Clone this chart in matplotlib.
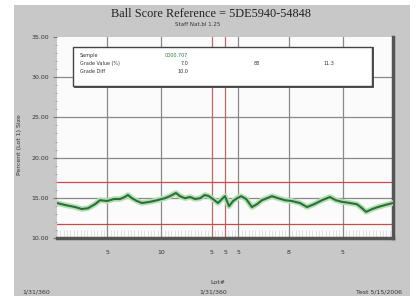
import numpy as np
import matplotlib.pyplot as plt
from matplotlib.patches import Rectangle

# data
lot_pos = [0, 2.4, 5.4, 7.4, 9.2, 11.3, 12.8, 14.9, 17.0, 18.8, 20.2, 21.1, 22.3, 23.8,
           25.3, 27.7, 29.8, 32.1, 33.6, 35.4, 36.6, 38.1, 39.6, 41.1, 42.6, 44.0, 45.2,
           46.4, 47.9, 49.1, 50.0, 51.2, 52.4, 53.6, 54.8, 56.3, 58.0, 59.5, 61.0, 62.5,
           64.0, 65.8, 67.9, 69.9, 72.3, 74.4, 76.5, 78.9, 81.2, 83.0, 84.8, 87.2, 89.3,
           90.8, 92.0, 93.8, 95.5, 97.6, 100]
pct_values = [14.35, 14.1, 13.85, 13.6, 13.7, 14.2, 14.7, 14.6, 14.85, 14.85, 15.1, 15.35,
              14.95, 14.6, 14.35, 14.5, 14.7, 14.95, 15.2, 15.6, 15.2, 14.95, 15.1, 14.85,
              14.95, 15.35, 15.2, 14.85, 14.35, 14.85, 15.2, 13.95, 14.6, 14.95, 15.2, 14.85,
              13.85, 14.2, 14.7, 14.95, 15.2, 14.95, 14.7, 14.6, 14.35, 13.85, 14.2, 14.7,
              15.1, 14.7, 14.5, 14.35, 14.2, 13.7, 13.25, 13.6, 13.85, 14.1, 14.35]

xtick_pos = [15, 31, 46, 50, 54, 69, 85, 100]
xtick_labels = ["5", "10", "5", "5", "5", "8", "5", ""]
red_vlines = [46, 50]
ytick_pos = [10, 15, 20, 25, 30, 35]
limit_lines = [17, 11.75]

fig = plt.figure(figsize=(4.16, 2.96), dpi=100, facecolor='white')
fig.patches.append(Rectangle((14/416, 0), 396/416, 1 - 5/296, transform=fig.transFigure,
                             facecolor='#c8c8c8', edgecolor='none', zorder=-10))

ax = fig.add_axes([57/416, 1 - 238/296, 336/416, 201/296])
ax.set_facecolor('#fbfbfb')
ax.set_xlim(0, 100)
ax.set_ylim(10, 35)

# grid
for y in [15, 20, 25, 30]:
    ax.axhline(y, color='#8a8a8a', lw=0.9, zorder=1)
for x in xtick_pos[:-1]:
    if x in red_vlines:
        ax.axvline(x, color='#c06868', lw=0.9, zorder=1)
    else:
        ax.axvline(x, color='#8a8a8a', lw=0.9, zorder=1)
for y in limit_lines:
    ax.axhline(y, color='#cc4a4a', lw=0.9, zorder=1)

# series
ax.plot(lot_pos, pct_values, color='#b4dfb4', lw=4, solid_capstyle='round', zorder=3)
ax.plot(lot_pos, pct_values, color='#2c7038', lw=1.5, zorder=4)

# frame: shadow style on right/bottom only
for s in ['left', 'top']:
    ax.spines[s].set_visible(False)
for s in ['right', 'bottom']:
    ax.spines[s].set_color('#555555')
    ax.spines[s].set_linewidth(2.5)

ax.set_xticks(xtick_pos)
ax.set_xticklabels(xtick_labels, fontsize=4.5, color='#333333')
ax.set_xticks(np.arange(0, 101, 1), minor=True)
ax.tick_params(axis='x', which='major', length=0, pad=9)
ax.tick_params(axis='x', which='minor', direction='in', length=6, color='#dddddd', width=0.6)

ax.set_yticks(ytick_pos)
ax.set_yticklabels(['%.2f' % v for v in ytick_pos], fontsize=4.5, color='#333333')
ax.set_yticks(np.arange(10, 35.1, 1), minor=True)
ax.tick_params(axis='y', which='major', length=3, color='#777777', pad=3)
ax.tick_params(axis='y', which='minor', length=1.5, color='#999999')

# stats box
ax.add_patch(Rectangle((0.052, 0.748), 0.89, 0.2, transform=ax.transAxes,
                       facecolor='#555555', edgecolor='none', zorder=5))
ax.add_patch(Rectangle((0.048, 0.756), 0.89, 0.196, transform=ax.transAxes,
                       facecolor='white', edgecolor='#444444', lw=1.0, zorder=6))
rows = [("Sample", "0000.707", "", ""),
        ("Grade Value (%)", "7.0", "88", "11.3"),
        ("Grade Diff", "10.0", "", "")]
for i, (lab, v1, v2, v3) in enumerate(rows):
    yy = 0.91 - i * 0.04
    ax.text(0.068, yy, lab, transform=ax.transAxes, fontsize=3.5, color='#333333',
            va='center', zorder=7)
    ax.text(0.39, yy, v1, transform=ax.transAxes, fontsize=3.5, ha='right', va='center',
            color='#2f7a3c' if i == 0 else '#333333', zorder=7)
    ax.text(0.595, yy, v2, transform=ax.transAxes, fontsize=3.5, ha='center', va='center',
            color='#333333', zorder=7)
    ax.text(0.81, yy, v3, transform=ax.transAxes, fontsize=3.5, ha='center', va='center',
            color='#333333', zorder=7)

# titles and labels
fig.text(211/416, 1 - 14/296, "Ball Score Reference = 5DE5940-54848", ha='center', va='center',
         fontsize=8.8, family='Liberation Serif', color='#222222')
fig.text(198/416, 1 - 25/296, "Staff Nat.bl 1.25", ha='center', va='center',
         fontsize=4, color='#333333')
fig.text(20/416, 1 - 145/296, "Percent (Lot 1) Size", rotation=90, ha='center', va='center',
         fontsize=4.5, color='#333333')
fig.text(218/416, 1 - 282/296, "Lot#", ha='center', va='center', fontsize=4.5, color='#333333')
fig.text(22/416, 1 - 292/296, "1/31/360", ha='left', va='center', fontsize=4.5, color='#333333')
fig.text(213/416, 1 - 292/296, "1/31/360", ha='center', va='center', fontsize=4.5, color='#333333')
fig.text(402/416, 1 - 292/296, "Test 5/15/2006", ha='right', va='center', fontsize=4.5,
         color='#333333')

fig.savefig('out.png', dpi=100, facecolor=fig.get_facecolor())
